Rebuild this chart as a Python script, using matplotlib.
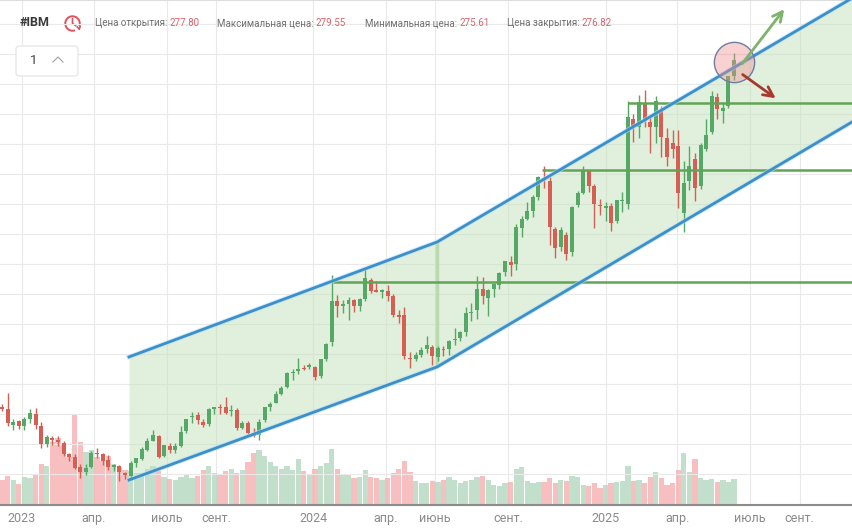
import matplotlib
matplotlib.use('Agg')
import matplotlib.pyplot as plt
import matplotlib.dates as mdates
from matplotlib.patches import FancyBboxPatch, Arc
from matplotlib.lines import Line2D
import numpy as np
import pandas as pd

# weekly candles for IBM, first week starts 2022-12-05
week_start = '2022-12-05'
opens = [148.0, 147.3, 141.5, 142.8, 141.1, 143.6, 145.4, 141.0, 134.3, 136.4,
         135.6, 134.5, 130.4, 129.6, 125.6, 124.0, 125.8, 130.9, 130.5, 128.3,
         125.6, 126.2, 123.4, 122.5, 127.3, 128.6, 132.0, 135.5, 137.4, 129.7,
         133.4, 132.1, 133.6, 139.0, 144.2, 145.0, 142.3, 141.7, 147.3, 148.0,
         148.0, 146.6, 147.0, 140.3, 142.1, 138.5, 137.5, 143.0, 148.0, 149.6,
         152.8, 155.6, 160.5, 161.5, 162.4, 163.0, 162.8, 159.6, 165.8, 172.0,
         187.4, 185.4, 186.3, 187.6, 185.6, 188.0, 195.0, 191.5, 190.9, 191.1,
         189.2, 181.9, 182.3, 166.2, 166.0, 167.5, 169.5, 170.3, 166.5, 169.6,
         169.5, 172.8, 173.5, 176.0, 183.0, 184.0, 192.0, 188.5, 191.7, 193.5,
         198.0, 201.9, 201.0, 214.5, 218.0, 221.0, 226.0, 233.0, 231.8, 214.0,
         207.5, 212.0, 205.5, 223.0, 227.5, 235.5, 230.0, 223.0, 222.0, 222.5,
         217.0, 224.5, 223.5, 255.0, 252.0, 261.0, 254.0, 252.0, 258.0, 248.0,
         246.0, 245.0, 220.0, 232.0, 240.0, 230.0, 244.0, 250.0, 263.0, 258.0,
         260.0, 271.0]
highs = [149.3, 153.2, 143.5, 143.0, 144.3, 147.2, 147.5, 142.3, 137.7, 137.4,
         137.4, 135.4, 131.0, 130.6, 126.8, 126.8, 131.5, 132.7, 130.9, 130.0,
         127.0, 126.4, 123.9, 127.8, 129.2, 133.0, 136.4, 139.5, 137.6, 134.0,
         134.6, 134.6, 141.0, 143.6, 146.0, 146.0, 143.7, 147.7, 148.1, 149.0,
         151.9, 148.9, 147.5, 142.9, 142.9, 140.2, 143.5, 148.0, 149.7, 153.8,
         155.7, 161.0, 162.2, 166.3, 163.5, 164.2, 163.3, 166.0, 171.6, 196.9,
         189.5, 187.6, 188.9, 188.2, 188.4, 199.2, 196.0, 194.8, 191.9, 193.3,
         189.9, 184.0, 185.3, 168.6, 168.3, 170.4, 174.5, 171.0, 170.7, 170.6,
         173.0, 177.3, 176.3, 185.0, 186.6, 196.8, 196.3, 191.8, 194.0, 198.0,
         202.2, 204.1, 216.0, 218.8, 224.2, 226.9, 234.0, 237.4, 233.4, 215.0,
         215.0, 213.0, 222.7, 228.4, 237.5, 236.0, 231.0, 225.4, 224.1, 223.7,
         225.0, 227.7, 261.8, 256.7, 264.0, 265.7, 255.7, 263.5, 259.8, 251.5,
         251.0, 251.0, 239.4, 245.0, 242.5, 246.0, 255.0, 265.5, 264.5, 261.0,
         271.0, 279.55]
lows = [146.4, 140.8, 139.3, 139.7, 139.5, 142.2, 140.0, 132.9, 133.2, 133.9,
        133.7, 129.9, 128.0, 124.8, 121.7, 122.9, 125.4, 129.0, 126.4, 124.7,
        124.3, 120.6, 121.4, 121.8, 125.9, 128.3, 131.7, 135.3, 128.9, 129.4,
        130.8, 131.0, 133.3, 138.4, 142.0, 141.8, 140.6, 140.9, 145.4, 145.3,
        145.4, 144.6, 139.6, 139.9, 138.1, 136.9, 135.9, 142.6, 146.5, 149.5,
        152.3, 154.9, 158.0, 160.1, 161.6, 162.1, 157.9, 158.9, 165.0, 170.6,
        181.6, 182.8, 180.5, 183.2, 183.8, 187.2, 190.3, 190.8, 188.5, 187.3,
        181.4, 179.2, 165.7, 162.6, 165.0, 166.4, 168.2, 163.5, 165.2, 166.8,
        167.5, 170.9, 172.5, 174.4, 180.0, 180.6, 186.4, 181.8, 189.0, 192.0,
        196.8, 196.5, 199.0, 211.0, 217.4, 218.7, 225.0, 229.3, 208.2, 203.5,
        206.0, 202.5, 204.0, 222.3, 227.0, 228.0, 214.6, 219.5, 217.0, 213.5,
        216.2, 220.5, 221.4, 246.5, 248.0, 252.0, 242.5, 246.0, 240.7, 237.5,
        240.5, 222.0, 213.0, 228.5, 224.6, 229.0, 243.0, 249.5, 255.0, 253.5,
        259.0, 269.5]
closes = [147.1, 142.0, 142.5, 140.9, 143.7, 145.9, 141.2, 134.4, 136.9, 135.6,
          135.0, 130.6, 129.6, 125.4, 123.7, 125.3, 131.1, 130.5, 128.1, 125.7,
          126.4, 123.7, 122.8, 127.3, 128.9, 132.4, 135.3, 137.5, 129.4, 133.8,
          132.1, 133.4, 138.9, 143.5, 144.2, 143.1, 141.4, 147.1, 147.9, 147.7,
          145.9, 146.9, 140.3, 142.0, 138.5, 137.2, 142.5, 147.9, 149.0, 153.0,
          155.2, 160.6, 161.0, 162.2, 162.1, 163.6, 159.2, 165.8, 171.5, 187.4,
          185.6, 186.3, 187.6, 185.7, 188.2, 195.9, 191.1, 190.8, 191.0, 189.1,
          182.3, 181.6, 167.1, 165.7, 167.2, 169.0, 170.9, 166.9, 170.0, 169.2,
          172.5, 173.0, 176.0, 182.8, 183.3, 191.8, 189.1, 191.5, 193.8, 197.7,
          202.1, 200.7, 215.0, 217.7, 220.8, 226.0, 233.3, 232.2, 214.7, 207.0,
          213.7, 204.9, 222.4, 227.4, 235.5, 230.1, 223.4, 222.8, 222.7, 216.5,
          224.8, 224.8, 255.7, 252.3, 261.3, 255.0, 252.0, 261.5, 248.4, 241.0,
          244.0, 227.5, 231.4, 237.4, 229.3, 245.5, 249.2, 263.5, 258.6, 259.1,
          270.8, 276.82]
# average daily volume of the week, mln shares
volumes = [3.6, 4.2, 3.5, 3.0, 4.0, 3.8, 4.3, 5.8, 5.6, 9.0,
           9.5, 8.5, 6.8, 13.0, 9.0, 7.5, 7.8, 6.8, 6.3, 7.0,
           5.8, 5.4, 5.0, 4.9, 4.5, 4.6, 5.2, 5.5, 4.8, 4.0,
           3.7, 3.5, 4.0, 4.3, 3.9, 4.1, 5.0, 5.6, 4.6, 4.3,
           4.8, 5.2, 4.6, 5.0, 6.2, 7.4, 7.8, 7.0, 6.2, 5.6,
           5.2, 5.6, 5.0, 6.6, 4.8, 4.3, 5.2, 5.6, 6.0, 8.0,
           5.2, 4.3, 4.4, 3.8, 4.0, 5.0, 4.0, 3.8, 3.6, 3.8,
           4.6, 5.2, 6.3, 4.7, 3.4, 3.2, 3.1, 3.4, 3.3, 3.6,
           4.0, 3.6, 3.1, 3.4, 3.6, 4.0, 4.1, 3.5, 2.9, 2.7,
           3.1, 3.3, 5.2, 5.4, 3.4, 3.1, 3.3, 3.3, 3.8, 3.2,
           3.6, 3.4, 4.2, 4.0, 2.9, 2.7, 3.2, 2.4, 2.9, 3.1,
           3.3, 3.4, 5.6, 3.4, 3.5, 3.2, 4.0, 4.7, 3.8, 2.9,
           3.1, 5.0, 7.4, 4.7, 6.6, 3.8, 3.5, 3.7, 3.3, 3.5,
           3.3, 3.7]

tick_dates = ['2023-01-01', '2023-04-01', '2023-07-01', '2023-09-01',
              '2024-01-01', '2024-04-01', '2024-06-01', '2024-09-01',
              '2025-01-01', '2025-04-01', '2025-07-01', '2025-09-01']
tick_labels = ['2023', 'апр.', 'июль', 'сент.', '2024', 'апр.', 'июнь', 'сент.',
               '2025', 'апр.', 'июль', 'сент.']

# trend channel (two segments) and support/resistance levels
channel_dates = ['2023-05-15', '2024-06-04', '2025-11-07']
channel_upper = [166.6, 209.3, 300.1]
channel_lower = [120.9, 162.9, 254.1]
level_starts = ['2024-01-25', '2024-10-14', '2025-01-29']
level_prices = [194.5, 236.1, 261.0]

focus_date, focus_price = '2025-06-11', 276.2
arrow_up = [('2025-06-19', 274.7), ('2025-08-15', 296.6)]
arrow_down = [('2025-06-19', 272.1), ('2025-08-05', 262.1)]

header_labels = ['Цена открытия:', 'Максимальная цена:', 'Минимальная цена:', 'Цена закрытия:']
header_values = ['277.80', '279.55', '275.61', '276.82']


def main():
    plt.rcParams['font.family'] = ['Roboto', 'DejaVu Sans']
    W, H = 853, 530
    fig = plt.figure(figsize=(W / 100, H / 100), dpi=100)
    ax_vol = fig.add_axes([0, 25 / H, 1, 505 / H])
    ax = ax_vol.twinx()
    ax.set_zorder(ax_vol.get_zorder() + 1)
    ax.patch.set_visible(False)

    dates = pd.date_range(week_start, periods=len(closes), freq='7D') + pd.Timedelta(days=2)
    xs = mdates.date2num(dates.to_pydatetime())
    o = np.array(opens)
    c = np.array(closes)
    up = c >= o

    # volume
    vcol = np.where(up, '#b3d8be', '#f5b0b0')
    ax_vol.bar(xs, volumes, width=6.6, color=vcol, alpha=0.8, linewidth=0)
    ax_vol.set_ylim(0, 72)

    # channel fill
    cx = mdates.datestr2num(channel_dates)
    ax.fill_between(cx, channel_lower, channel_upper, color='#c3e2bb', alpha=0.5,
                    linewidth=0, zorder=1)
    ax.vlines(cx[1], channel_lower[1], channel_upper[1], color='#b9d9b0', lw=2.5, zorder=1.5)

    # candles
    ccol = np.where(up, '#55a866', '#d45f52')
    ax.vlines(xs, lows, highs, colors=ccol, lw=1.0, zorder=3)
    ax.bar(xs, np.maximum(np.abs(c - o), 0.4), width=5.0, bottom=np.minimum(o, c),
           color=ccol, linewidth=0, zorder=4)

    ls = mdates.datestr2num(level_starts)
    ax.hlines(level_prices, ls, cx[-1], color='#62a455', lw=1.8, zorder=5)

    for line in (channel_upper, channel_lower):
        ax.plot(cx, line, color='#b5dcf2', lw=3.4, alpha=0.6, zorder=5.5)
        ax.plot(cx, line, color='#3b8fca', lw=2.0, zorder=6)

    fx = mdates.datestr2num(focus_date)
    ax.plot(fx, focus_price, 'o', ms=29, mfc=(0.94, 0.55, 0.55, 0.4), mec='#6b7ea6',
            mew=1.0, zorder=7)
    for arr, col in ((arrow_up, '#7db36a'), (arrow_down, '#a8382b')):
        (d0, p0), (d1, p1) = arr
        ax.annotate('', xy=(mdates.datestr2num(d1), p1), xytext=(mdates.datestr2num(d0), p0),
                    arrowprops=dict(arrowstyle='->,head_length=0.7,head_width=0.35',
                                    color=col, lw=2), zorder=8)

    ax.set_ylim(111.6, 299.2)
    ax_vol.set_xlim(mdates.datestr2num('2022-12-04 10:00'), mdates.datestr2num('2025-11-07'))

    # grid
    grid_levels = 290.3 - 11.145 * np.arange(16)
    ax.set_yticks(grid_levels)
    ax.tick_params(axis='y', length=0, labelright=False, labelleft=False)
    ax.grid(axis='y', color='#e9e9e9', lw=0.8)
    ax.set_axisbelow(True)
    ax_vol.set_yticks([])
    ax_vol.set_xticks(mdates.datestr2num(tick_dates))
    ax_vol.set_xticklabels(tick_labels)
    ax_vol.tick_params(axis='x', length=0, pad=5, labelsize=9, labelcolor='#8a8a8a')
    ax_vol.grid(axis='x', color='#e9e9e9', lw=0.8)
    ax_vol.set_axisbelow(True)
    for s in ax.spines.values():
        s.set_visible(False)
    for name, s in ax_vol.spines.items():
        s.set_visible(name in ('bottom', 'top'))
    ax_vol.spines['bottom'].set_color('#8c8c8c')
    ax_vol.spines['bottom'].set_linewidth(1.5)
    ax_vol.spines['top'].set_color('#dddddd')

    # header
    ty = 1 - 23 / H
    fig.text(20 / W, ty, '#IBM', fontsize=9, fontweight='bold', color='#3a3a3a', va='center')
    icon = fig.add_axes([64 / W, 1 - 32 / H, 17 / W, 17 / H])
    icon.set_xlim(0, 1)
    icon.set_ylim(0, 1)
    icon.axis('off')
    icon.add_patch(Arc((0.5, 0.5), 0.85, 0.85, theta1=-20, theta2=290, color='#e0505f', lw=1.4))
    icon.plot([0.5, 0.5, 0.68], [0.78, 0.5, 0.38], color='#e0505f', lw=1.2)
    icon.plot([0.78, 0.9, 0.95], [0.3, 0.16, 0.34], color='#e0505f', lw=1.2)

    fig.canvas.draw()
    r = fig.canvas.get_renderer()
    for lab, val, x0 in zip(header_labels, header_values, [95, 217, 365, 507]):
        t = fig.text(x0 / W, ty, lab + ' ', fontsize=7, color='#707070', va='center')
        bb = t.get_window_extent(renderer=r)
        fig.text(bb.x1 / W, ty, val, fontsize=7, color='#d8646c', va='center')

    box = FancyBboxPatch((16 / W, 1 - 76 / H), 62 / W, 30 / H,
                         boxstyle='round,pad=0,rounding_size=0.005', transform=fig.transFigure,
                         ec='#e2e2e2', fc='white', lw=0.8, zorder=10)
    fig.add_artist(box)
    fig.text(34 / W, 1 - 60 / H, '1', fontsize=9.5, color='#444444', va='center', ha='center',
             zorder=11)
    fig.add_artist(Line2D([53 / W, 58 / W, 63 / W], [1 - 62 / H, 1 - 57 / H, 1 - 62 / H],
                          transform=fig.transFigure, color='#a0a0a0', lw=0.8, zorder=11))

    fig.savefig('out.png', dpi=100)


if __name__ == '__main__':
    main()
